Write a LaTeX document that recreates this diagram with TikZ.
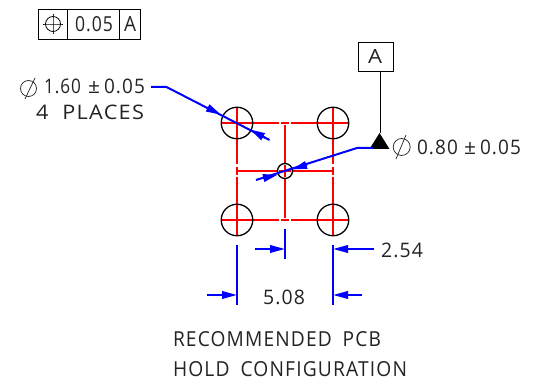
\documentclass[tikz,border=0pt]{standalone}
\usepackage{graphicx}
\usepackage{fontspec}
\setmainfont[LetterSpace=6]{Open Sans}
\usetikzlibrary{arrows.meta}
\definecolor{cadblue}{RGB}{0,0,255}
\definecolor{cadred}{RGB}{255,0,0}
\definecolor{cadtext}{RGB}{35,35,35}
\newcommand{\fitted}[3]{\resizebox{#1pt}{#2pt}{#3}}
\tikzset{
  lbl/.style={anchor=base west,inner sep=0pt,outer sep=0pt,text=cadtext},
  hole/.style={circle,draw=black,line width=1.3pt,minimum size=31.5pt,inner sep=0pt},
  via/.style={circle,draw=black,line width=1.3pt,minimum size=15pt,inner sep=0pt},
  fcf/.style={draw=black,line width=0.8pt,inner sep=0pt,minimum height=30pt},
  redln/.style={draw=cadred,line width=1.8pt},
  blueln/.style={draw=cadblue,line width=2pt},
  bluearrow/.style={blueln,-{Triangle[length=15pt,width=7.5pt]}},
  thinblk/.style={draw=black,line width=0.8pt},
  phiring/.style={circle,draw=cadtext,line width=0.7pt,inner sep=0pt},
}
\begin{document}
\begin{tikzpicture}[x=1pt,y=-1pt]
\useasboundingbox (0,0) rectangle (539,390);
% feature control frame
\node[fcf,minimum width=29.5pt] (f1) at (52.75,24) {};
\node[fcf,minimum width=52pt] (f2) at (93.5,24) {};
\node[fcf,minimum width=20.5pt] (f3) at (129.75,24) {};
\node[circle,draw=black,line width=0.8pt,minimum size=15pt,inner sep=0pt] (fsym) at (53,24) {};
\draw[thinblk] (43,24) -- (fsym.west) -- (fsym.east) -- (63,24);
\draw[thinblk] (53,14) -- (fsym.north) -- (fsym.south) -- (53,34);
\node[lbl] (t005) at (75,32) {\fitted{38}{15}{0.05}};
\node[lbl] (tfa) at (124,32) {\fitted{12}{15}{A}};
% red centre lines
\coordinate (TL) at (237,123); \coordinate (TR) at (333,123);
\coordinate (BL) at (237,220); \coordinate (BR) at (333,220);
\coordinate (C) at (285,171);
\draw[redln] (221,123) -- (279,123) (291,123) -- (349,123);
\draw[redln] (221,220) -- (279,220) (291,220) -- (349,220);
\draw[redln] (237,171) -- (277,171) (293,171) -- (333,171);
\draw[redln] (237,107) -- (237,164) (237,177) -- (237,236);
\draw[redln] (333,107) -- (333,164) (333,177) -- (333,236);
\draw[redln] (285,125) -- (285,163) (285,179) -- (285,218);
\draw[redln] (281,123) -- (289,123) (281,220) -- (289,220);
\draw[redln] (279,171) -- (291,171) (285,165) -- (285,177);
\draw[redln] (237,167) -- (237,175) (333,167) -- (333,175);
% holes
\node[hole] (h1) at (TL) {};
\node[hole] (h2) at (TR) {};
\node[hole] (h3) at (BL) {};
\node[hole] (h4) at (BR) {};
\node[via] (h5) at (C) {};
% datum
\node[draw=black,line width=0.9pt,minimum width=34.5pt,minimum height=28.5pt,inner sep=0pt] (datum) at (375.75,56.75) {};
\node[lbl] (tda) at (368,63.5) {\fitted{14}{14}{A}};
\coordinate (dtop) at (379.5,133);
\draw[thinblk,line width=0.9pt] (380,71) -- (380,133);
\fill[black] (dtop) -- (389.5,149) -- (369.5,149) -- cycle;
% leader 1
\node[lbl] (t160) at (44,93.5) {\fitted{37}{14.5}{1.60}};
\node[lbl] (tpm1) at (88,93.5) {\fitted{12}{12}{±}};
\node[lbl] (t105) at (104,93.5) {\fitted{41}{14.5}{0.05}};
\node[phiring,minimum size=16pt] (phi1) at (28.5,88.5) {};
\draw[cadtext,line width=0.7pt] (25,99) -- (35,78);
\node[lbl] (t4p) at (36,119.5) {\fitted{108}{14.5}{4 \ PLACES}};
\coordinate (l1a) at (151,87); \coordinate (l1b) at (166.5,87);
\coordinate (l1c) at (221,114.7); \coordinate (l1d) at (269.5,140); \coordinate (l1e) at (250,129.5);
\draw[blueln] (l1a) -- (l1b) -- (l1d);
\draw[bluearrow] (207,107.6) -- (l1c);
\draw[bluearrow] (265,137.7) -- (l1e);
% leader 2
\coordinate (l2a) at (373,148); \coordinate (l2b) at (357,148);
\coordinate (l2c) at (292,169.5); \coordinate (l2d) at (256,180); \coordinate (l2e) at (278,174.5);
\draw[blueln] (l2a) -- (l2b) -- (l2d);
\draw[bluearrow] (307,164.7) -- (l2c);
\draw[bluearrow] (263,178.2) -- (l2e);
\node[phiring,minimum size=17pt] (phi2) at (401.7,147) {};
\draw[cadtext,line width=0.7pt] (396,159) -- (406,135);
\node[lbl] (t080) at (417,155) {\fitted{41}{14.5}{0.80}};
\node[lbl] (tpm2) at (464,155) {\fitted{12}{12}{±}};
\node[lbl] (t205) at (480,155) {\fitted{41}{14.5}{0.05}};
% dimensions
\coordinate (e1a) at (237,245); \coordinate (e1b) at (237,305);
\coordinate (e2a) at (285,229); \coordinate (e2b) at (285,259);
\coordinate (e3a) at (333,245); \coordinate (e3b) at (333,305);
\draw[blueln] (e1a) -- (e1b) (e2a) -- (e2b) (e3a) -- (e3b);
\coordinate (a1) at (255,249); \coordinate (a1t) at (285,249);
\coordinate (a2) at (374,249); \coordinate (a2t) at (333,249);
\coordinate (a3) at (207,295); \coordinate (a3t) at (237,295);
\coordinate (a4) at (362,295); \coordinate (a4t) at (333,295);
\draw[bluearrow] (a1) -- (a1t);
\draw[bluearrow] (a2) -- (a2t);
\draw[bluearrow] (a3) -- (a3t);
\draw[bluearrow] (a4) -- (a4t);
\node[lbl] (t254) at (381,258) {\fitted{42}{14.5}{2.54}};
\node[lbl] (t508) at (263,304.5) {\fitted{42}{14.5}{5.08}};
% caption
\node[lbl] (cap1) at (173,346.7) {\fitted{208}{15}{RECOMMENDED\hspace{0.25em} PCB}};
\node[lbl] (cap2) at (173,377) {\fitted{234}{15}{HOLD\hspace{0.25em} CONFIGURATION}};
\end{tikzpicture}
\end{document}
